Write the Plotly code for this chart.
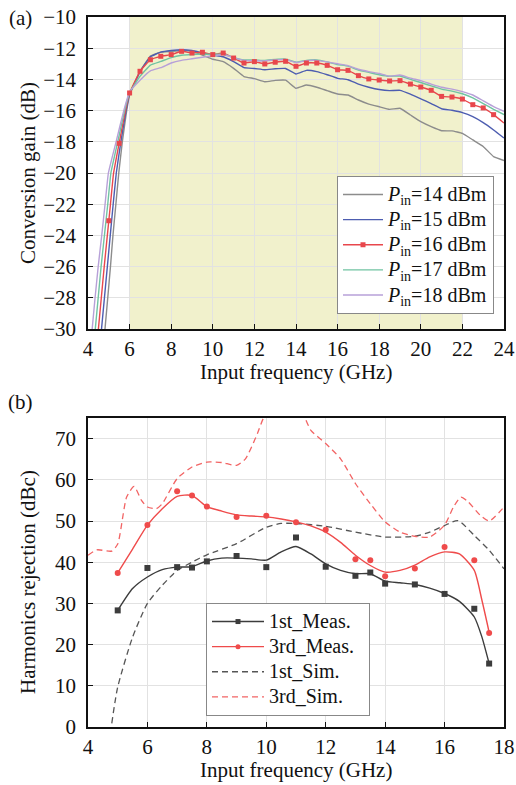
import plotly.graph_objects as go

# ---------------- (a) Conversion gain ----------------
band_start = 6
band_end = 22

rise_gain = [-31, -28, -26, -24, -22, -20, -18, -16]
rise_f14 = [4.75, 4.95, 5.08, 5.20, 5.34, 5.48, 5.65, 5.86]
rise_f15 = [4.58, 4.79, 4.93, 5.07, 5.21, 5.36, 5.58, 5.83]
rise_f16 = [4.43, 4.64, 4.78, 4.93, 5.08, 5.23, 5.51, 5.80]
rise_f17 = [4.28, 4.49, 4.63, 4.79, 4.95, 5.10, 5.43, 5.76]
rise_f18 = [4.13, 4.34, 4.49, 4.66, 4.82, 4.98, 5.35, 5.72]

freq_a = [6.0, 6.5, 7.0, 7.5, 8.0, 8.5, 9.0, 9.5, 10.0, 10.5, 11.0, 11.5, 12.0,
          12.5, 13.0, 13.5, 14.0, 14.5, 15.0, 15.5, 16.0, 16.5, 17.0, 17.5, 18.0,
          18.5, 19.0, 19.5, 20.0, 20.5, 21.0, 21.5, 22.0, 22.5, 23.0, 23.5, 24.0]
gain14 = [-15.0, -13.5, -12.5, -12.25, -12.2, -12.15, -12.2, -12.44, -12.71, -12.86,
          -13.29, -13.82, -13.95, -14.15, -14.06, -14.05, -14.57, -14.36, -14.5, -14.72,
          -14.94, -15.0, -15.32, -15.58, -15.75, -15.92, -15.85, -16.28, -16.71, -17.03,
          -17.29, -17.3, -17.46, -17.88, -18.3, -18.95, -19.2]
gain15 = [-14.95, -13.5, -12.55, -12.25, -12.15, -12.1, -12.15, -12.3, -12.44, -12.55,
          -12.86, -13.25, -13.3, -13.38, -13.32, -13.3, -13.65, -13.42, -13.5, -13.7,
          -13.93, -14.02, -14.3, -14.5, -14.65, -14.72, -14.7, -14.95, -15.25, -15.55,
          -15.88, -15.98, -16.13, -16.39, -16.77, -17.24, -17.76]
gain16 = [-14.87, -13.48, -12.74, -12.52, -12.41, -12.2, -12.31, -12.26, -12.41, -12.31,
          -12.63, -12.95, -12.86, -13.01, -12.9, -12.84, -13.16, -12.95, -12.95, -13.1,
          -13.38, -13.42, -13.76, -13.97, -14.04, -14.1, -14.08, -14.3, -14.49, -14.7,
          -15.09, -15.13, -15.26, -15.62, -15.83, -16.26, -16.8]
gain17 = [-14.85, -13.8, -13.08, -12.85, -12.6, -12.45, -12.4, -12.38, -12.4, -12.37,
          -12.6, -12.75, -12.75, -12.78, -12.72, -12.7, -12.9, -12.78, -12.75, -12.88,
          -13.05, -13.15, -13.4, -13.55, -13.7, -13.8, -13.78, -14.0, -14.2, -14.42,
          -14.62, -14.75, -14.92, -15.18, -15.55, -15.92, -16.26]
gain18 = [-14.8, -14.05, -13.45, -13.25, -12.95, -12.78, -12.68, -12.58, -12.48, -12.4,
          -12.6, -12.78, -12.8, -12.82, -12.75, -12.72, -12.92, -12.8, -12.78, -12.88,
          -13.0, -13.12, -13.35, -13.5, -13.62, -13.8, -13.72, -13.92, -14.08, -14.3,
          -14.5, -14.62, -14.78, -15.0, -15.37, -15.75, -16.05]

mark_f16 = [5.0, 5.5, 6.0, 6.5, 7.0, 7.5, 8.0, 8.5, 9.0, 9.5, 10.0, 10.5, 11.0, 11.5,
            12.0, 12.5, 13.0, 13.5, 14.0, 14.5, 15.0, 15.5, 16.0, 16.5, 17.0, 17.5,
            18.0, 18.5, 19.0, 19.5, 20.0, 20.5, 21.0, 21.5, 22.0, 22.5, 23.0, 23.5]
mark_g16 = [-23.06, -18.1, -14.87, -13.48, -12.74, -12.52, -12.41, -12.2, -12.31, -12.26,
            -12.41, -12.31, -12.63, -12.95, -12.86, -13.01, -12.9, -12.84, -13.16, -12.95,
            -12.95, -13.1, -13.38, -13.42, -13.76, -13.97, -14.04, -14.1, -14.08, -14.3,
            -14.49, -14.7, -15.09, -15.13, -15.26, -15.62, -15.83, -16.26]

names_a = ["14", "15", "16", "17", "18"]
colors_a = ["#8c8c8c", "#4d5db0", "#e8474c", "#70c3a2", "#b7a0d8"]

# ---------------- (b) Harmonics rejection ----------------
meas_f = [5, 6, 7, 7.5, 8, 9, 10, 11, 12, 13, 13.5, 14, 15, 16, 17, 17.5]
first_meas = [28.3, 38.6, 38.8, 38.7, 40.2, 41.5, 38.8, 46.0, 38.9, 36.7, 37.5, 34.8,
              34.6, 32.3, 28.7, 15.4]
third_meas = [37.4, 49.0, 57.2, 56.2, 53.5, 51.0, 51.3, 49.7, 47.9, 40.7, 40.5, 36.6,
              38.5, 43.7, 40.5, 22.8]

fit_f = [5, 5.5, 6, 6.5, 7, 7.5, 8, 8.5, 9, 9.5, 10, 10.5, 11, 11.5, 12, 12.5, 13,
         13.5, 14, 14.5, 15, 15.5, 16, 16.5, 17, 17.25, 17.5]
first_fit = [28.3, 33.6, 36.4, 38.2, 38.8, 38.9, 40.3, 41.0, 41.0, 40.8, 40.5, 42.5,
             43.8, 42.0, 39.6, 38.0, 37.2, 37.2, 35.4, 35.0, 34.6, 33.7, 32.4, 30.5,
             26.7, 22.0, 15.4]
third_fit = [37.4, 43.2, 49.0, 53.0, 56.0, 56.2, 53.5, 52.4, 51.5, 51.2, 51.0, 50.5,
             49.8, 48.8, 47.3, 44.8, 41.7, 39.2, 37.6, 38.0, 39.3, 41.3, 42.5, 42.0,
             38.0, 31.0, 23.0]

sim1_f = [4.8, 5, 5.5, 6, 6.5, 7, 7.5, 8, 9, 10, 10.5, 11, 12, 13, 14, 15, 15.5, 16,
          16.45, 17, 17.5, 18]
sim1 = [0.9, 9.7, 21.8, 30.0, 34.4, 38.0, 40.0, 41.8, 44.5, 48.5, 49.4, 49.4, 48.7,
        47.3, 46.1, 46.3, 47.3, 48.9, 50.1, 46.5, 42.9, 38.4]

sim3_f = [4, 4.3, 4.8, 5.0, 5.3, 5.55, 5.8, 6, 6.3, 6.5, 7, 7.5, 8, 8.5, 9, 9.3, 9.7,
          9.9, 10.3, 10.7, 11.1, 11.3, 11.5, 12, 12.5, 13, 13.5, 14, 14.5, 15, 15.5,
          16, 16.3, 16.55, 16.8, 17.2, 17.5, 18]
sim3 = [41.7, 43.0, 42.7, 44.4, 55.8, 58.4, 55.0, 53.4, 53.0, 54.2, 60.3, 63.1, 64.3,
        64.2, 63.5, 65.1, 71.2, 74.9, 79.0, 80.0, 77.0, 75.0, 72.0, 68.8, 65.1, 59.1,
        54.2, 49.8, 47.3, 46.3, 46.1, 49.0, 53.4, 55.8, 54.6, 51.4, 50.0, 53.4]

FONT = "Liberation Serif, Times New Roman, serif"
FS = 21
LFS = 17
DASH = "6px,4px"


def big(t):
    return "<span style='font-size:20px'>" + t + "</span>"


fig = go.Figure()

# (a) curves
rises = [rise_f14, rise_f15, rise_f16, rise_f17, rise_f18]
gains = [gain14, gain15, gain16, gain17, gain18]
for nm, col, rf, g in zip(names_a, colors_a, rises, gains):
    fig.add_trace(go.Scatter(
        x=rf + freq_a, y=rise_gain + g, mode="lines",
        line=dict(color=col, width=1.4, shape="spline", smoothing=0.3),
        showlegend=False, xaxis="x", yaxis="y", hoverinfo="skip"))
fig.add_trace(go.Scatter(
    x=mark_f16, y=mark_g16, mode="markers",
    marker=dict(color=colors_a[2], size=5, symbol="square"),
    showlegend=False, xaxis="x", yaxis="y"))
for nm, col in zip(names_a, colors_a):
    is16 = nm == "16"
    fig.add_trace(go.Scatter(
        x=[None], y=[None], mode="lines+markers" if is16 else "lines",
        line=dict(color=col, width=1.4),
        marker=dict(color=col, size=5, symbol="square"),
        name=big("<i>P</i><sub>in</sub>=" + nm + " dBm"),
        legend="legend", xaxis="x", yaxis="y"))

# (b) curves
c1, c3 = "#3c3c3c", "#ef4b4b"
c1s, c3s = "#555555", "#f26464"
fig.add_trace(go.Scatter(x=sim1_f, y=sim1, mode="lines",
                         line=dict(color=c1s, width=1.3, dash=DASH, shape="spline", smoothing=0.6),
                         showlegend=False, xaxis="x2", yaxis="y2"))
fig.add_trace(go.Scatter(x=sim3_f, y=sim3, mode="lines",
                         line=dict(color=c3s, width=1.3, dash=DASH, shape="spline", smoothing=0.6),
                         showlegend=False, xaxis="x2", yaxis="y2"))
fig.add_trace(go.Scatter(x=fit_f, y=first_fit, mode="lines",
                         line=dict(color=c1, width=1.4, shape="spline", smoothing=0.6),
                         showlegend=False, xaxis="x2", yaxis="y2"))
fig.add_trace(go.Scatter(x=fit_f, y=third_fit, mode="lines",
                         line=dict(color=c3, width=1.4, shape="spline", smoothing=0.6),
                         showlegend=False, xaxis="x2", yaxis="y2"))
fig.add_trace(go.Scatter(x=meas_f, y=first_meas, mode="markers",
                         marker=dict(color=c1, size=6, symbol="square"),
                         showlegend=False, xaxis="x2", yaxis="y2"))
fig.add_trace(go.Scatter(x=meas_f, y=third_meas, mode="markers",
                         marker=dict(color=c3, size=6, symbol="circle"),
                         showlegend=False, xaxis="x2", yaxis="y2"))
leg_b = [("1st_Meas.", c1, "solid", "square", True),
         ("3rd_Meas.", c3, "solid", "circle", True),
         ("1st_Sim.", c1s, DASH, "circle", False),
         ("3rd_Sim.", c3s, DASH, "circle", False)]
for nm, col, dash, sym, mk in leg_b:
    fig.add_trace(go.Scatter(x=[None], y=[None], mode="lines+markers" if mk else "lines",
                             line=dict(color=col, width=1.4, dash=dash),
                             marker=dict(color=col, size=5, symbol=sym),
                             name=big(nm + "&nbsp;&nbsp;"), legend="legend2",
                             xaxis="x2", yaxis="y2"))

axis_common = dict(showline=True, linecolor="#111111", linewidth=1.5, mirror=True,
                   ticks="inside", ticklen=5, tickcolor="#111111", tickwidth=1,
                   showgrid=True, gridcolor="#e2e2e2", gridwidth=1, zeroline=False,
                   automargin=False,
                   tickfont=dict(family=FONT, size=FS, color="#111111"))

H_TOP, H_BOT, PH = 17, 58, 710
def py(p):
    return (785 - H_BOT - p) / PH

fig.update_layout(
    width=516, height=785,
    margin=dict(l=88, r=12, t=H_TOP, b=H_BOT, autoexpand=False),
    paper_bgcolor="white", plot_bgcolor="white",
    font=dict(family=FONT, size=FS, color="#111111"),
    xaxis=dict(domain=[0, 1], anchor="y", range=[4, 24], dtick=2, tick0=4,
               ticklabelstandoff=0, **axis_common),
    yaxis=dict(domain=[py(329), 1], anchor="x", range=[-30, -10], dtick=2,
               ticklabelstandoff=6, **axis_common),
    xaxis2=dict(domain=[0, 1], anchor="y2", range=[4, 18], dtick=2, tick0=4,
                ticklabelstandoff=0, **axis_common),
    yaxis2=dict(domain=[0, py(418)], anchor="x2", range=[0, 75], dtick=10,
                ticklabelstandoff=6, **axis_common),
    legend=dict(x=(337 - 88) / 416, y=py(176), xanchor="left", yanchor="top",
                bgcolor="white", bordercolor="#888888", borderwidth=1,
                font=dict(family=FONT, size=LFS), tracegroupgap=0, itemwidth=40),
    legend2=dict(x=(206 - 88) / 416, y=py(603), xanchor="left", yanchor="top",
                 bgcolor="white", bordercolor="#888888", borderwidth=1,
                 font=dict(family=FONT, size=LFS), tracegroupgap=0, itemwidth=52),
    shapes=[dict(type="rect", xref="x", yref="y", x0=band_start, x1=band_end,
                 y0=-30, y1=-10, fillcolor="rgb(241,241,204)", line=dict(width=0),
                 layer="below")],
    annotations=[
        dict(text="(a)", x=(20 - 88) / 416, y=py(18), xref="paper", yref="paper",
             showarrow=False, xanchor="center", yanchor="middle"),
        dict(text="(b)", x=(20 - 88) / 416, y=py(402), xref="paper", yref="paper",
             showarrow=False, xanchor="center", yanchor="middle"),
        dict(text="Input frequency (GHz)", x=0.5, y=py(372), xref="paper", yref="paper",
             showarrow=False, xanchor="center", yanchor="middle"),
        dict(text="Input frequency (GHz)", x=0.5, y=py(770), xref="paper", yref="paper",
             showarrow=False, xanchor="center", yanchor="middle"),
        dict(text="Conversion gain (dB)", x=(28 - 88) / 416, y=py(173), xref="paper",
             yref="paper", showarrow=False, textangle=-90, xanchor="center", yanchor="middle"),
        dict(text="Harmonics rejection (dBc)", x=(28 - 88) / 416, y=py(582), xref="paper",
             yref="paper", showarrow=False, textangle=-90, xanchor="center", yanchor="middle"),
    ],
)

fig.write_html("out.html", config={"displayModeBar": False},
               post_script="document.body.style.margin='0';")
